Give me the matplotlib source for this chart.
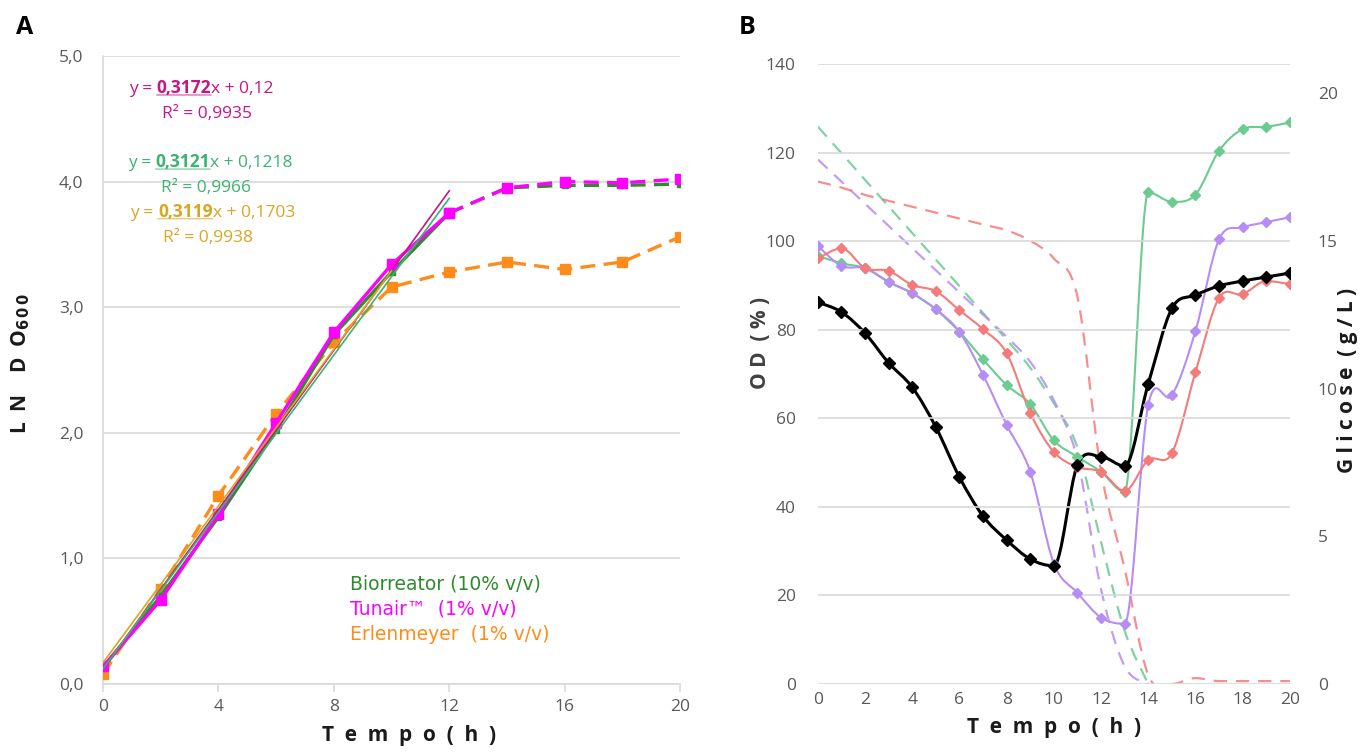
import numpy as np
import matplotlib
matplotlib.use("Agg")
import matplotlib.pyplot as plt
from matplotlib.path import Path
from matplotlib.patches import PathPatch

plt.rcParams['font.family'] = ['Open Sans', 'DejaVu Sans']

# ---- painel A: LN DO600 ----
tA = [0, 2, 4, 6, 8, 10, 12, 14, 16, 18, 20]
bio = [0.13, 0.70, 1.33, 2.02, 2.78, 3.28, 3.75, 3.95, 3.97, 3.97, 3.98]
tun = [0.14, 0.67, 1.35, 2.08, 2.80, 3.34, 3.75, 3.95, 4.00, 3.99, 4.02]
erl = [0.08, 0.76, 1.50, 2.15, 2.72, 3.16, 3.28, 3.36, 3.30, 3.36, 3.56]

# coeficientes das retas de tendencia (a, b, R2, fim da reta)
fit_tun = (0.3172, 0.12, 0.9935, 12)
fit_bio = (0.3121, 0.1218, 0.9966, 12)
fit_erl = (0.3119, 0.1703, 0.9938, 10)

# ---- painel B: OD (%) e glicose (g/L) ----
tB = list(range(21))
od_black = [86.2, 84, 79.2, 72.5, 67, 58, 46.7, 37.9, 32.5, 28.2, 26.7,
            49.5, 51.3, 49.2, 67.8, 84.8, 87.8, 89.9, 91, 91.9, 92.8]
od_green = [96.7, 95, 93.9, 90.8, 88.2, 84.6, 79.5, 73.3, 67.5, 63.2, 55,
            51.3, 47.9, 43.4, 111, 108.9, 110.5, 120.4, 125.3, 125.8, 126.8]
od_purple = [98.9, 94.4, 93.9, 90.8, 88.2, 84.6, 79.5, 69.8, 58.5, 47.9, 27.2,
             20.6, 15, 13.6, 63, 65.2, 79.7, 100.4, 103.1, 104.3, 105.4]
od_red = [96.1, 98.4, 93.9, 93.3, 90.1, 88.7, 84.4, 80.1, 74.7, 61.2, 52.4,
          49, 47.9, 43.6, 50.6, 52.1, 70.4, 87.2, 88, 91, 90.3]

tG = list(range(15))
glc_green = [18.86, 17.96, 17.06, 16.16, 15.26, 14.36, 13.46, 12.55, 11.65,
             10.7, 9.5, 8.0, 4.8, 1.8, 0.0]
glc_purple = [17.75, 17.0, 16.25, 15.5, 14.75, 14.0, 13.25, 12.5, 11.75,
              10.9, 9.6, 7.6, 3.2, 0.6, 0.0]
glc_red = [17.0, 16.8, 16.55, 16.35, 16.15, 15.95, 15.75, 15.55, 15.35, 15.0,
           14.4, 13.1, 7.2, 3.9, 0.3, 0.0, 0.2, 0.1, 0.1, 0.1, 0.1]

GRID = '#D9D9D9'
TICK = '#595959'


def smooth(x, y, k=6.0):
    # curva suave tipo Excel (Bezier); tangente horizontal nos picos/vales
    p = np.column_stack([x, y]).astype(float)
    n = len(p)
    d = np.zeros_like(p)
    for i in range(n):
        a = p[max(i - 1, 0)]
        b = p[min(i + 1, n - 1)]
        d[i] = b - a
        if 0 < i < n - 1 and (p[i][1] - a[1]) * (b[1] - p[i][1]) <= 0:
            d[i][1] = 0.0
    verts = [p[0]]
    codes = [Path.MOVETO]
    for i in range(n - 1):
        verts += [p[i] + d[i] / k, p[i + 1] - d[i + 1] / k, p[i + 1]]
        codes += [Path.CURVE4] * 3
    return Path(verts, codes)


fig = plt.figure(figsize=(13.7, 7.54), dpi=100)

# ================= A =================
ax = fig.add_axes([0.0752, 0.0928, 0.4212, 0.833])
ax.set_xlim(0, 20)
ax.set_ylim(0, 5)
ax.set_xticks(range(0, 21, 4))
ax.set_yticks(np.arange(0, 5.01, 1))
ax.set_yticklabels([f'{v:.1f}'.replace('.', ',') for v in np.arange(0, 5.01, 1)])
ax.grid(axis='y', color=GRID, lw=1.2)
ax.set_axisbelow(True)
for s in ['top', 'right']:
    ax.spines[s].set_visible(False)
for s in ['left', 'bottom']:
    ax.spines[s].set_color(GRID)
    ax.spines[s].set_linewidth(1.2)
ax.tick_params(axis='x', colors=GRID, length=6, width=1.2, labelcolor=TICK, labelsize=12.5, pad=5)
ax.tick_params(axis='y', length=0, labelcolor=TICK, labelsize=12.5, pad=14)

c_bio, c_tun, c_erl = '#2E8B2E', '#FF00FF', '#FF8C1A'
c_fbio, c_ftun, c_ferl = '#3CB371', '#C71585', '#DAA520'

# retas de tendencia
for (a, b, r2, xe), col in [(fit_tun, c_ftun), (fit_bio, c_fbio), (fit_erl, c_ferl)]:
    xs = np.array([0, xe])
    ax.plot(xs, a * xs + b, color=col, lw=1.2, zorder=4)

dash = (0, (4.5, 2.5))
ax.plot(tA, erl, color=c_erl, lw=2.4, ls=dash, marker='s', ms=7, zorder=3)
ax.plot(tA[:7], bio[:7], color=c_bio, lw=2.4, marker='s', ms=5, zorder=3)
ax.plot(tA[6:], bio[6:], color=c_bio, lw=2.4, ls=dash, marker='s', ms=5, zorder=3)
ax.plot(tA[:7], tun[:7], color=c_tun, lw=2.4, marker='s', ms=7, zorder=3)
ax.plot(tA[6:], tun[6:], color=c_tun, lw=2.4, ls=dash, marker='s', ms=7, zorder=3)


def equation(xa, ya, fit, col):
    a, b, r2, _ = fit
    fs = 12.5
    t1 = ax.annotate('y = ', (xa, ya), xycoords='axes fraction', color=col,
                     fontsize=fs, va='bottom', ha='left')
    t2 = ax.annotate(f'{a:.4f}'.replace('.', ','), (1, 0), xycoords=t1, color=col,
                     fontsize=fs, fontweight='bold', va='bottom', ha='left')
    ax.annotate(f'x + {b:g}'.replace('.', ','), (1, 0), xycoords=t2, color=col,
                fontsize=fs, va='bottom', ha='left')
    ax.annotate('', xy=(0, 0.1), xycoords=t2, xytext=(1, 0.1), textcoords=t2,
                arrowprops=dict(arrowstyle='-', color=col, lw=1.0, alpha=0.6,
                                shrinkA=0, shrinkB=0))
    ax.annotate(f'R² = {r2:.4f}'.replace('.', ','), (0, 0), xycoords=t1,
                xytext=(24, -18), textcoords='offset points', color=col,
                fontsize=fs, va='bottom', ha='left')


equation(0.045, 0.935, fit_tun, c_ftun)
equation(0.043, 0.817, fit_bio, c_fbio)
equation(0.047, 0.738, fit_erl, c_ferl)

leg = dict(transform=ax.transAxes, fontsize=13.5, family='DejaVu Sans')
ax.text(0.428, 0.15, 'Biorreator (10% v/v)', color=c_bio, **leg)
ax.text(0.428, 0.11, 'Tunair™  (1% v/v)', color=c_tun, **leg)
ax.text(0.428, 0.07, 'Erlenmeyer  (1% v/v)', color=c_erl, **leg)

ax.set_xlabel('T  e  m  p  o  (  h  )', fontsize=15, fontweight='bold', color='#1A1A1A')
ax.xaxis.set_label_coords(0.53, -0.065)
ax.set_ylabel(r'L  N    D  O$_{\mathbf{6\,0\,0}}$', fontsize=15, fontweight='bold',
              color='#1A1A1A')
ax.yaxis.set_label_coords(-0.123, 0.51)
fig.text(0.012, 0.955, 'A', fontsize=18, fontweight='bold')

# ================= B =================
bx = fig.add_axes([0.597, 0.0928, 0.3445, 0.8223])
gx = bx.twinx()
bx.set_zorder(gx.get_zorder() + 1)
bx.patch.set_visible(False)

bx.set_xlim(0, 20)
bx.set_ylim(0, 140)
gx.set_ylim(0, 20.98)
bx.set_xticks(range(0, 21, 2))
bx.set_yticks(range(0, 141, 20))
gx.set_yticks(range(0, 21, 5))
bx.grid(axis='y', color=GRID, lw=1.2)
for a_ in (bx, gx):
    for s in a_.spines.values():
        s.set_visible(False)
    a_.tick_params(length=0, labelcolor=TICK, labelsize=12.5)
bx.tick_params(axis='y', pad=16)
bx.tick_params(axis='x', pad=6)
gx.tick_params(axis='y', pad=20)

g_col, p_col, r_col = '#6BCB91', '#B68CF5', '#F57A7A'

for y, col in [(glc_green, g_col), (glc_purple, p_col)]:
    gx.add_patch(PathPatch(smooth(tG, y), fill=False, edgecolor=col, lw=1.6,
                           ls=(0, (6, 4)), alpha=0.85))
gx.add_patch(PathPatch(smooth(tB, glc_red), fill=False, edgecolor=r_col, lw=1.6,
                       ls=(0, (6, 4)), alpha=0.85))

for y, col, lw, ms in [(od_green, g_col, 1.5, 5.5), (od_purple, p_col, 1.5, 5.5),
                       (od_red, r_col, 1.5, 5.5), (od_black, '#000000', 2.2, 6.5)]:
    bx.add_patch(PathPatch(smooth(tB, y), fill=False, edgecolor=col, lw=lw))
    bx.plot(tB, y, ls='none', marker='D', ms=ms, color=col)

bx.set_xlabel('T  e  m  p  o  (  h  )', fontsize=15, fontweight='bold', color='#1A1A1A', labelpad=6)
bx.set_ylabel('O D  ( % )', fontsize=15, fontweight='bold', color='#404040')
bx.yaxis.set_label_coords(-0.10, 0.55)
gx.set_ylabel('G l i c o s e  ( g / L )', fontsize=15, fontweight='bold', color='#1A1A1A')
gx.yaxis.set_label_coords(1.10, 0.49)
fig.text(0.539, 0.955, 'B', fontsize=18, fontweight='bold')

fig.savefig('out.png', dpi=100)
